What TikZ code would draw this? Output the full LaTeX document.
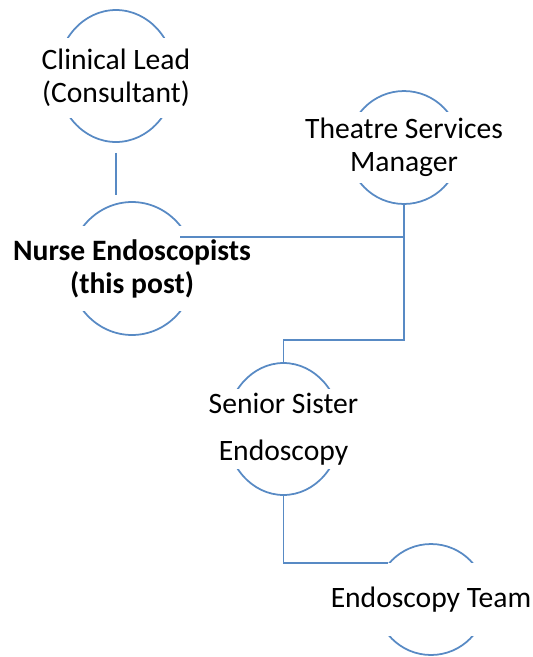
\documentclass[tikz,border=0pt]{standalone}
\usepackage{fontspec}
\setmainfont{Carlito}
\usetikzlibrary{shapes,positioning,calc}
\definecolor{orgblue}{RGB}{88,138,196}
\tikzset{%
  every role/.style={
    ellipse,
    draw=orgblue,
    line width=1pt,
    inner sep=0pt
  },
  role text/.style={
    fill=white,
    inner sep=0pt,
    align=center,
    font=\fontsize{16.85}{18.8}\selectfont
  },
  link/.style={
    draw=orgblue,
    line width=1.1pt
  },
}

\begin{document}
\begin{tikzpicture}[x=0.02cm,y=-0.02cm]
  \useasboundingbox (0,0) rectangle (533,657);
  % ovals
  \node[every role,minimum width=2.36cm,minimum height=2.64cm] (lead)   at (116,76)      {};
  \node[every role,minimum width=2.52cm,minimum height=2.66cm] (nurse)  at (132,268.5)   {};
  \node[every role,minimum width=2.24cm,minimum height=2.26cm] (tsm)    at (404,147.5)   {};
  \node[every role,minimum width=2.30cm,minimum height=2.64cm] (sister) at (283.5,429)   {};
  \node[every role,minimum width=2.21cm,minimum height=2.22cm] (team)   at (431,599.5)   {};
  % labels
  \node[role text,minimum width=2.44cm,minimum height=1.6cm]  (leadtxt)   at ([yshift=-0.04cm]lead.center)   {Clinical Lead\\(Consultant)};
  \node[role text,minimum width=2.6cm,minimum height=1.7cm]   (nursetxt)  at (nurse)  {\bfseries Nurse Endoscopists\\\bfseries(this post)};
  \node[role text,minimum width=2.32cm,minimum height=1.42cm] (tsmtxt)    at (tsm)    {Theatre Services\\Manager};
  \node[role text,minimum width=2.38cm,minimum height=1.6cm]  (sistertxt) at (sister) {Senior Sister\\[8pt]Endoscopy};
  \node[role text,minimum width=2.3cm,minimum height=1.46cm]  (teamtxt)   at (team)   {Endoscopy Team};
  \coordinate (nursejoin) at (180,237);
  % reporting lines
  \draw[link,shorten <=0.2cm,shorten >=0.12cm] (lead.south) -- (lead.south |- nurse.north);
  \draw[link] (nursejoin) -- (nursejoin -| tsm.south);
  \draw[link] (tsm.south) -- ++(0,135) -| (sister.north);
  \draw[link] (sister.south) |- (team.140);
\end{tikzpicture}
\end{document}
